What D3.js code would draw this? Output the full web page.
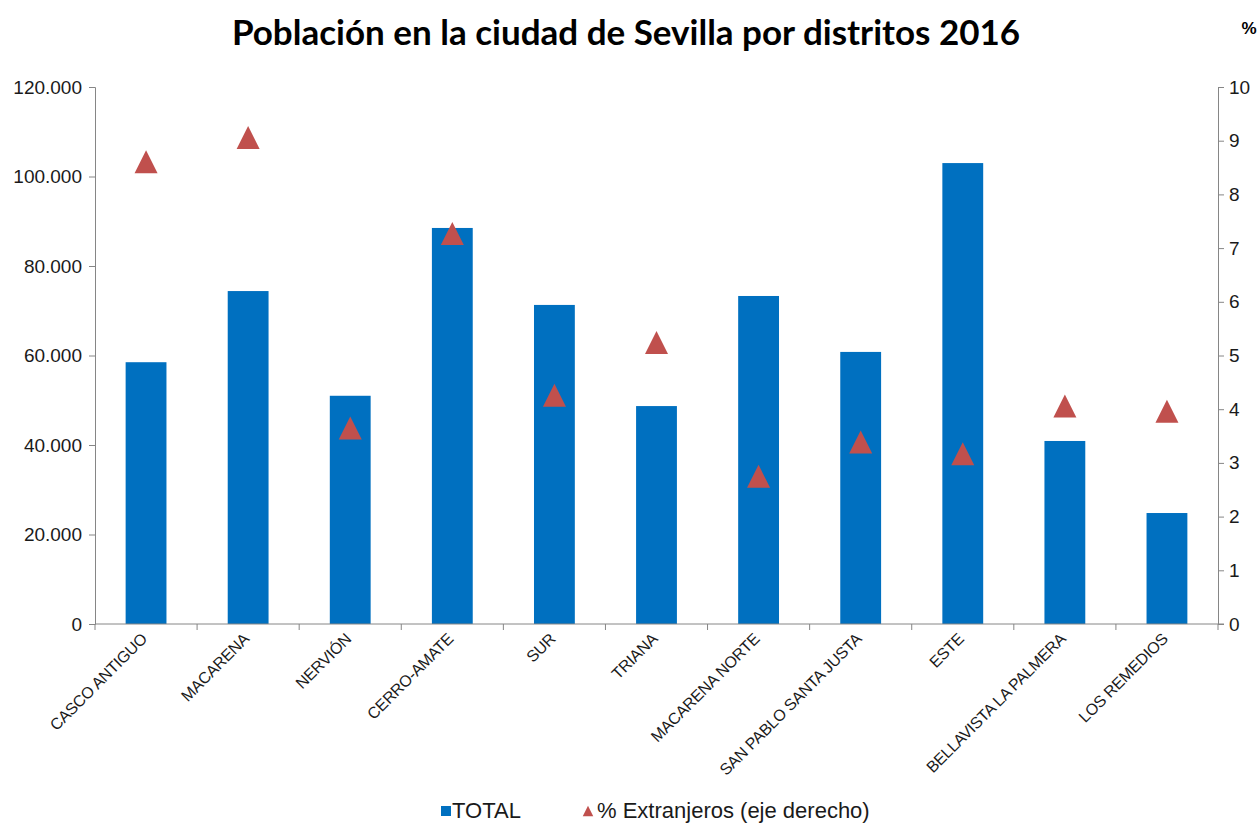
<!DOCTYPE html>
<html>
<head>
<meta charset="utf-8">
<script src="https://cdn.jsdelivr.net/npm/d3@7"></script>
<style>
  body { margin: 0; background: #fff; }
  svg text { font-family: "Liberation Sans", Arial, sans-serif; }
</style>
</head>
<body>
<svg id="chart" width="1258" height="823"></svg>
<script>

// data
const districts = ["CASCO ANTIGUO", "MACARENA", "NERVIÓN", "CERRO-AMATE", "SUR", "TRIANA",
    "MACARENA NORTE", "SAN PABLO SANTA JUSTA", "ESTE", "BELLAVISTA LA PALMERA", "LOS REMEDIOS"];
const totals = [58500, 74400, 51000, 88500, 71300, 48700, 73300, 60800, 103000, 40900, 24800];
const foreignPct = [8.61, 9.06, 3.65, 7.27, 4.26, 5.24, 2.75, 3.39, 3.17, 4.06, 3.96];
const leftTicks = [0, 20000, 40000, 60000, 80000, 100000, 120000];
const rightTicks = [0, 1, 2, 3, 4, 5, 6, 7, 8, 9, 10];
const chartTitle = "Población en la ciudad de Sevilla por distritos 2016";
const legendLabels = ["TOTAL", "% Extranjeros (eje derecho)"];

svg_width = 1258
svg_height = 823
plot_left = 95
plot_right = 1218
plot_top = 87
plot_bottom = 624

bar_color = "#0070C0"
marker_color = "#C0504D"
axis_color = "#868686"

// triangle centred on its bounding box, like the spreadsheet marker
const boxTriangle = {
    draw(context, size) {
        const w = Math.sqrt(size);
        context.moveTo(0, -w / 2);
        context.lineTo(w / 2, w / 2);
        context.lineTo(-w / 2, w / 2);
        context.closePath();
    }
};

document.addEventListener('DOMContentLoaded', function () {

    const svg = d3.select('#chart');

    const esFormat = d3.formatLocale({ decimal: ",", thousands: ".", grouping: [3], currency: ["", " €"] }).format(",");

    const rows = districts.map((d, i) => ({ name: d, total: totals[i], pct: foreignPct[i] }));

    var xScale = d3.scaleBand()
        .domain(districts)
        .range([plot_left, plot_right])
        .paddingInner(0.6)
        .paddingOuter(0.3);

    var yLeft = d3.scaleLinear()
        .domain([0, 120000])
        .range([plot_bottom, plot_top]);

    var yRight = d3.scaleLinear()
        .domain([0, 10])
        .range([plot_bottom, plot_top]);

    // title
    svg.append("text")
        .attr("x", 626)
        .attr("y", 45)
        .attr("text-anchor", "middle")
        .style("font-family", "Lato, 'Open Sans', sans-serif")
        .style("font-weight", "bold")
        .style("font-size", "35px")
        .style("fill", "#000")
        .text(chartTitle);

    svg.append("text")
        .attr("x", 1249)
        .attr("y", 34)
        .attr("text-anchor", "middle")
        .style("font-weight", "bold")
        .style("font-size", "17px")
        .text("%");

    // bars
    svg.selectAll(".bar")
        .data(rows)
        .enter()
        .append("rect")
        .attr("class", "bar")
        .attr("x", d => xScale(d.name))
        .attr("width", xScale.bandwidth())
        .attr("y", d => yLeft(d.total))
        .attr("height", d => plot_bottom - yLeft(d.total))
        .style("fill", bar_color);

    // left axis
    const leftAxis = svg.append("g")
        .attr("transform", `translate(${plot_left},0)`)
        .call(d3.axisLeft(yLeft).tickValues(leftTicks).tickSize(6).tickPadding(7).tickFormat(esFormat));

    // right axis
    const rightAxis = svg.append("g")
        .attr("transform", `translate(${plot_right},0)`)
        .call(d3.axisRight(yRight).tickValues(rightTicks).tickSize(6).tickPadding(5));

    // bottom axis: ticks on the category boundaries
    const step = xScale.step();
    const bounds = districts.map(d => xScale(d) - step * 0.3).concat([plot_right]);
    const bottomAxis = svg.append("g").attr("class", "x-axis");
    bottomAxis.append("line")
        .attr("x1", plot_left).attr("x2", plot_right + 6)
        .attr("y1", plot_bottom).attr("y2", plot_bottom);
    bottomAxis.selectAll(".xtick")
        .data(bounds)
        .enter()
        .append("line")
        .attr("class", "xtick")
        .attr("x1", d => d).attr("x2", d => d)
        .attr("y1", plot_bottom).attr("y2", plot_bottom + 6);
    bottomAxis.selectAll("line").style("stroke", axis_color).style("stroke-width", 1);

    bottomAxis.selectAll(".xlabel")
        .data(districts)
        .enter()
        .append("text")
        .attr("class", "xlabel")
        .attr("transform", d => `translate(${xScale(d) + xScale.bandwidth() / 2 - 2},${plot_bottom + 12}) rotate(-45)`)
        .attr("text-anchor", "end")
        .attr("dy", "0.35em")
        .style("font-size", "16px")
        .style("letter-spacing", "-0.3px")
        .style("fill", "#1a1a1a")
        .text(d => d);

    [leftAxis, rightAxis].forEach(g => {
        g.select(".domain").style("stroke", axis_color);
        g.selectAll(".tick line").style("stroke", axis_color);
        g.selectAll(".tick text")
            .style("font-size", "19px")
            .style("fill", "#1a1a1a")
            .style("font-family", "'Liberation Sans', Arial, sans-serif");
    });

    // triangle markers on the right scale
    const marker = d3.symbol().type(boxTriangle).size(23 * 23);
    svg.selectAll(".marker")
        .data(rows)
        .enter()
        .append("path")
        .attr("class", "marker")
        .attr("d", marker)
        .attr("transform", d => `translate(${xScale(d.name) + xScale.bandwidth() / 2},${yRight(d.pct)})`)
        .style("fill", marker_color);

    // legend
    const legend = svg.append("g");
    legend.append("rect")
        .attr("x", 441).attr("y", 806)
        .attr("width", 10).attr("height", 10)
        .style("fill", bar_color);
    legend.append("text")
        .attr("x", 452).attr("y", 818)
        .style("font-size", "22px")
        .style("fill", "#1a1a1a")
        .text(legendLabels[0]);
    legend.append("path")
        .attr("d", d3.symbol().type(boxTriangle).size(110))
        .attr("transform", "translate(588,811)")
        .style("fill", marker_color);
    legend.append("text")
        .attr("x", 597).attr("y", 818)
        .style("font-size", "22px")
        .style("fill", "#1a1a1a")
        .text(legendLabels[1]);
});
</script>
</body>
</html>
